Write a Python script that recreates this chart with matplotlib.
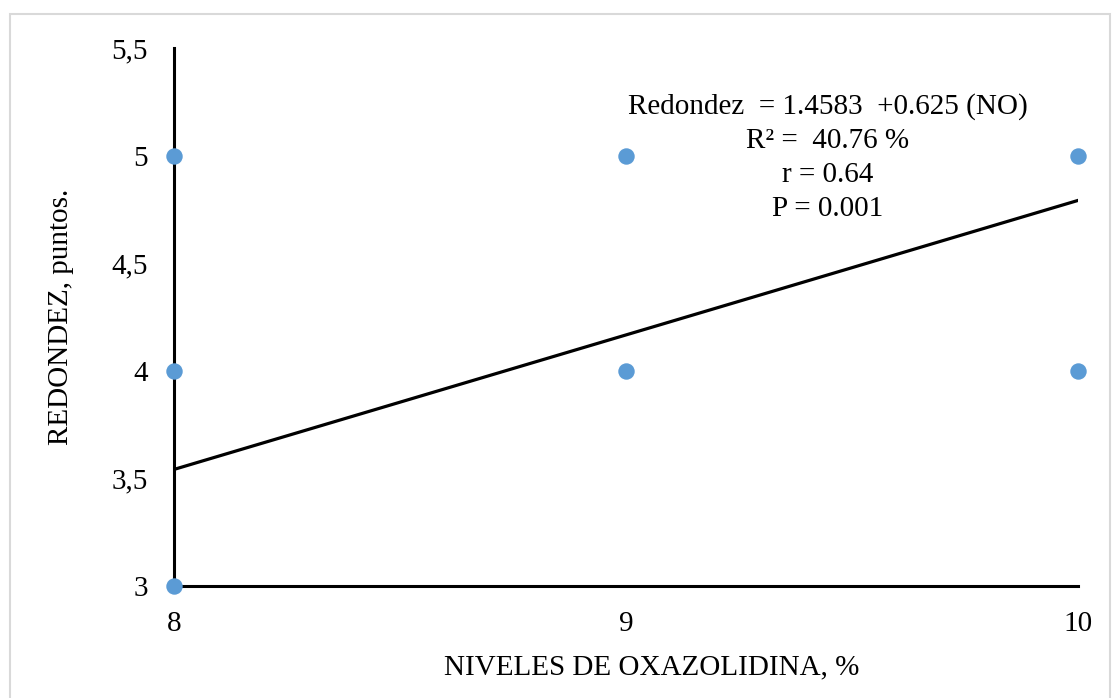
import matplotlib
matplotlib.use("Agg")
import matplotlib.pyplot as plt
from matplotlib.patches import Rectangle
import numpy as np

plt.rcParams['font.family'] = ['Liberation Serif', 'DejaVu Serif']

x_vals = [8, 8, 8, 9, 9, 10, 10]
y_vals = [5, 4, 3, 5, 4, 5, 4]
intercept = -1.4583
slope = 0.625
x_ticks = [8, 9, 10]
y_ticks = [3, 3.5, 4, 4.5, 5, 5.5]
y_tick_labels = ['3', '3,5', '4', '4,5', '5', '5,5']
annot_lines = ['Redondez  = 1.4583  +0.625 (NO)', 'R² =  40.76 %', 'r = 0.64', 'P = 0.001']

W, H = 1112, 698
fig = plt.figure(figsize=(W / 100, H / 100), dpi=100)
fig.patches.append(Rectangle((10 / W, -0.01), (W - 12) / W, (H - 14) / H + 0.01,
                             transform=fig.transFigure, fill=False,
                             edgecolor='#d9d9d9', linewidth=1.5))
ax = fig.add_axes([174 / W, 1 - 586 / H, (1078 - 174) / W, (586 - 48) / H])
ax.set_xlim(8, 10)
ax.set_ylim(3, 5.5)

xl = np.array([8, 10])
ax.plot(xl, intercept + slope * xl, color='black', linewidth=2.3, zorder=2)
ax.scatter(x_vals, y_vals, s=140, color='#5B9BD5', zorder=3, clip_on=False, linewidths=0)

for s in ['top', 'right']:
    ax.spines[s].set_visible(False)
for s in ['left', 'bottom']:
    ax.spines[s].set_linewidth(2.2)
    ax.spines[s].set_zorder(1)

ax.set_xticks(x_ticks)
ax.set_xticklabels([str(v) for v in x_ticks])
ax.set_yticks(y_ticks)
ax.set_yticklabels(y_tick_labels)
ax.tick_params(axis='both', length=0, labelsize=21)
ax.tick_params(axis='y', pad=19)
ax.tick_params(axis='x', pad=18)

ax.set_xlabel('NIVELES DE OXAZOLIDINA, %', fontsize=21)
ax.xaxis.set_label_coords((652 - 174) / (1078 - 174), -(667 - 586) / (586 - 48))
ax.xaxis.label.set_verticalalignment('center')
ax.set_ylabel('REDONDEZ, puntos.', fontsize=21, labelpad=27)

for i, t in enumerate(annot_lines):
    fig.text(828 / W, 1 - (107 + 34 * i) / H, t, ha='center', va='center', fontsize=21)

fig.savefig('out.png', dpi=100, facecolor='white')
